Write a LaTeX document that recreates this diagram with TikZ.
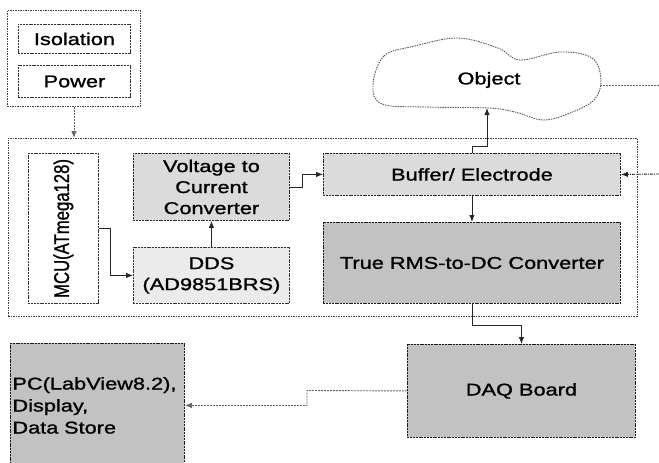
\documentclass[tikz,border=0pt]{standalone}
\usepackage{fontspec}
\setmainfont[FakeStretch=1.28, FakeBold=1.2]{Liberation Sans}
\newfontfamily\mcufont[FakeBold=1.2]{Liberation Sans}
\usetikzlibrary{arrows.meta}
\begin{document}
\begin{tikzpicture}[x=1pt,y=-1pt,
  every node/.style={font=\fontsize{17}{21}\selectfont},
  frame/.style={draw=black!75, line width=0.9pt, dash pattern=on 1.5pt off 1pt},
  plainbox/.style={draw=black!80, line width=0.9pt, dash pattern=on 2pt off 0.8pt, fill=white, anchor=north west, inner sep=0pt, align=center},
  lightbox/.style={plainbox, fill=gray!28, draw=black!85},
  paledbox/.style={plainbox, fill=gray!16},
  darkbox/.style={plainbox, fill=gray!48, draw=black!90},
  conn/.style={draw=black!85, line width=0.9pt, -{Latex[length=7pt,width=5.5pt]}},
  dconn/.style={draw=black!60, line width=0.9pt, dash pattern=on 2pt off 1pt, -{Latex[length=7pt,width=5.5pt]}},
  dline/.style={draw=black!60, line width=0.9pt, dash pattern=on 2pt off 1pt}]
\useasboundingbox (0,0) rectangle (659,463);
\fill[white] (0,0) rectangle (659,463);

% power frame
\node[plainbox, frame, minimum width=133pt, minimum height=96pt] (pwrframe) at (7,10) {};
\node[plainbox, minimum width=112pt, minimum height=29pt] (iso) at (18,24) {Isolation};
\node[plainbox, minimum width=112pt, minimum height=32pt] (pow) at (18,65) {Power};

% main frame
\node[plainbox, frame, fill=none, minimum width=629pt, minimum height=178pt] (main) at (8,138) {};

\node[plainbox, minimum width=70pt, minimum height=150pt] (mcu) at (28,153) {};
\node[xscale=1.28, rotate=90, inner sep=0pt, font=\mcufont\fontsize{16.7}{20}\selectfont] (mcutxt) at (mcu.center) {MCU(ATmega128)};

\node[lightbox, minimum width=156pt, minimum height=67pt] (v2c) at (133,153) {Voltage to\\Current\\Converter};
\node[paledbox, minimum width=156pt, minimum height=56pt] (dds) at (133,247) {DDS\\(AD9851BRS)};
\node[lightbox, minimum width=297pt, minimum height=42pt] (buf) at (323,153) {Buffer/ Electrode};
\node[darkbox, minimum width=297pt, minimum height=81pt] (rms) at (323,222) {True RMS-to-DC Converter};

\node[darkbox, minimum width=228pt, minimum height=93pt] (daq) at (407,344) {DAQ Board};
\node[darkbox, minimum width=174pt, minimum height=124pt, text width=170pt, align=left, inner xsep=2pt] (pc) at (10,343) {PC(LabView8.2),\\[1pt]Display,\\[1pt]Data Store};

% object cloud
\draw[draw=black!65, line width=0.9pt, dash pattern=on 1.5pt off 1pt, fill=white]
  plot[smooth cycle, tension=0.6] coordinates {(373,85) (384,56) (415,46) (458,38) (498,48) (520,60) (560,52) (592,58) (601,80) (594,100) (570,113) (543,120) (515,112) (488,108) (425,107) (382,104)};
\node (obj) at (489,80) {Object};
\coordinate (objb) at (487,108);
\coordinate (objr) at (600,85);
\coordinate (edge1) at (659,85);
\coordinate (edge2) at (659,174);

% connectors
\draw[dconn] (pwrframe.south) -- (pwrframe.south |- main.north);
\draw[conn] (mcu.east) -- ++(12,0) |- (dds.west);
\draw[conn] (dds.north) -- (v2c.south);
\draw[conn] (v2c.east) -- ++(13,0) |- (buf.west);
\draw[conn] (buf.south) -- (rms.north);
\draw[conn] (buf.north) -- ++(0,-7) -| (objb);
\draw[conn] (rms.south) -- ++(0,22) -| (daq.north);
\draw[dconn] (daq.west) -- (307,390.5) |- (pc.east);
\draw[dline] (objr) -- (edge1);
\draw[conn, dash pattern=on 3pt off 1pt on 1pt off 1pt] (edge2) -- (buf.east);
\end{tikzpicture}
\end{document}
